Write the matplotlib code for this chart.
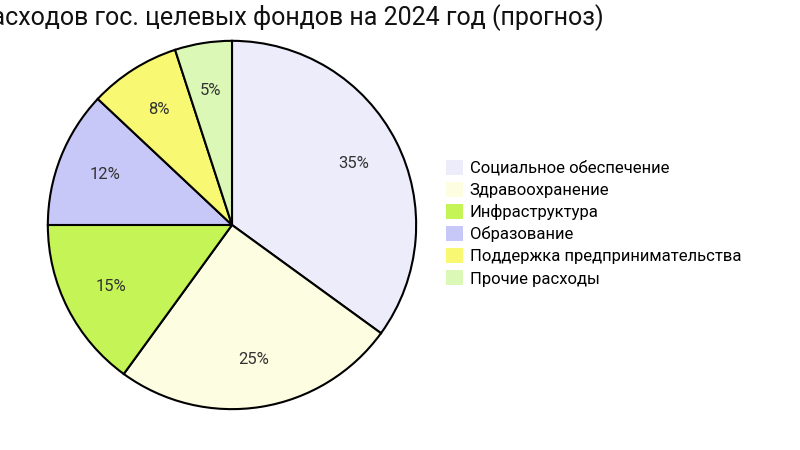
import matplotlib.pyplot as plt
from matplotlib.patches import Patch

plt.rcParams['font.family'] = ['Roboto', 'DejaVu Sans']

title = "Структура расходов гос. целевых фондов на 2024 год (прогноз)"
categories = ["Социальное обеспечение", "Здравоохранение", "Инфраструктура",
              "Образование", "Поддержка предпринимательства", "Прочие расходы"]
shares = [35, 25, 15, 12, 8, 5]
colors = ["#ececfb", "#fdfde2", "#c4f455", "#c8c8f8", "#f8f872", "#dcf8b6"]

fig = plt.figure(figsize=(8, 4.5), dpi=100)
ax = fig.add_axes([0.0575, 0.0867, 0.465, 0.8267])

wedges, texts, autotexts = ax.pie(
    shares, colors=colors, startangle=90, counterclock=False,
    autopct=lambda p: f"{p:.0f}%", pctdistance=0.74,
    wedgeprops=dict(edgecolor="black", linewidth=1.5),
    textprops=dict(fontsize=12, color="#333333"))
ax.set_xlim(-1.01, 1.01)
ax.set_ylim(-1.01, 1.01)
ax.set_aspect("equal")

# title centred over the pie, runs past the left edge like the original
fig.text(0.285, 0.962, title, fontsize=18, color="#111111", ha="center", va="center")

handles = [Patch(facecolor=c, edgecolor="none") for c in colors]
fig.legend(handles, categories, loc="upper left", bbox_to_anchor=(0.5495, 0.66),
           frameon=False, fontsize=12, handlelength=1.0, handleheight=1.0,
           handletextpad=0.4, labelspacing=0.36, borderaxespad=0)

fig.savefig("out.png", dpi=100)
